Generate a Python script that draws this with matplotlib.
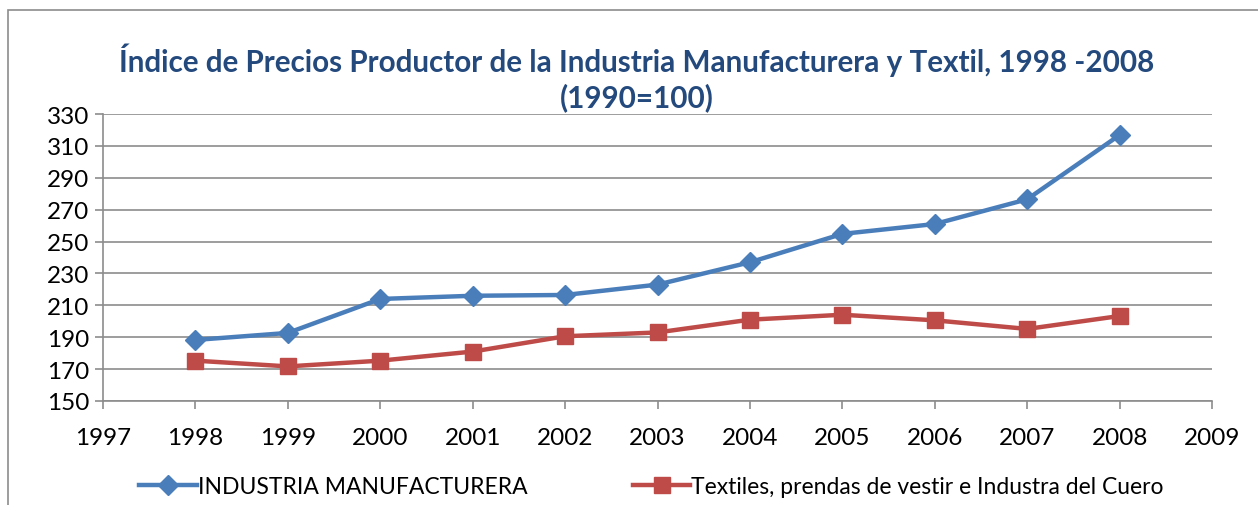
import matplotlib.pyplot as plt
from matplotlib.patches import Rectangle

years = [1998, 1999, 2000, 2001, 2002, 2003, 2004, 2005, 2006, 2007, 2008]
manufacturera = [188.3, 192.7, 214.0, 216.0, 216.5, 223.0, 237.0, 254.8, 261.0, 276.5, 316.8]
textiles = [175.3, 171.7, 175.3, 181.0, 190.6, 193.0, 201.0, 204.1, 200.6, 195.2, 203.3]
x_ticks = list(range(1997, 2010))
y_ticks = list(range(150, 331, 20))

plt.rcParams['font.family'] = ['Lato', 'DejaVu Sans']

fig = plt.figure(figsize=(12.58, 5.06), dpi=100)
# outer chart border
fig.patches.append(Rectangle((8/1258, -0.01), 1.2, 1 - 11/506 + 0.01, transform=fig.transFigure,
                             fill=False, edgecolor='#8c8c8c', linewidth=1.2))

ax = fig.add_axes([103/1258, 1 - 402/506, (1212 - 103)/1258, (402 - 115)/506])
ax.plot(years, manufacturera, color='#4A7EBB', lw=3.2, marker='D', markersize=10,
        label='INDUSTRIA MANUFACTURERA')
ax.plot(years, textiles, color='#BE4B48', lw=3.2, marker='s', markersize=12,
        label='Textiles, prendas de vestir e Industra del Cuero')

ax.set_xlim(1997, 2009)
ax.set_ylim(150, 330)
ax.set_xticks(x_ticks)
ax.set_yticks(y_ticks)
ax.grid(axis='y', color='#8c8c8c', lw=1.2)
ax.set_axisbelow(True)
for s in ['top', 'right']:
    ax.spines[s].set_visible(False)
for s in ['left', 'bottom']:
    ax.spines[s].set_color('#8c8c8c')
    ax.spines[s].set_linewidth(1.2)
ax.tick_params(axis='both', colors='#8c8c8c', labelcolor='black', labelsize=17.5, length=6, width=1.2)
ax.tick_params(axis='x', pad=13)
ax.tick_params(axis='y', pad=4)

fig.text(0.506, 1 - 60/506, 'Índice de Precios Productor de la Industria Manufacturera y Textil, 1998 -2008',
         ha='center', va='center', fontsize=21.3, fontweight='bold', color='#23497D')
fig.text(0.506, 1 - 98/506, '(1990=100)', ha='center', va='center', fontsize=21.3,
         fontweight='bold', color='#23497D')

fig.legend(loc='center', bbox_to_anchor=(0.518, 1 - 488/506), ncol=2, frameon=False,
           fontsize=16.5, handlelength=2.5, handletextpad=0.05, columnspacing=4.6)

fig.savefig('out.png', dpi=100)
